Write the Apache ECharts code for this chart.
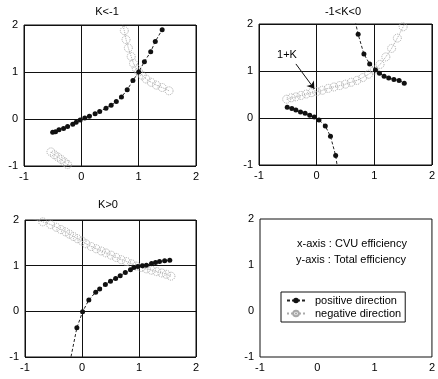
<!DOCTYPE html>
<html><head><meta charset="utf-8">
<script src="https://cdn.jsdelivr.net/npm/echarts@6/dist/echarts.min.js"></script>
<style>html,body{margin:0;padding:0;background:#fff}#c{width:438px;height:379px}</style>
</head><body><div id="c"></div>
<script>
const axisTicks = [-1, 0, 1, 2];
const panelTitles = ["K<-1", "-1<K<0", "K>0"];
const seriesNames = ["positive direction", "negative direction"];
const infoLines = ["x-axis : CVU efficiency", "y-axis : Total efficiency"];
const annotationText = "1+K";

// K<-1
const k1Pos = [[-0.50,-0.28],[-0.45,-0.27],[-0.39,-0.23],[-0.31,-0.20],[-0.24,-0.16],[-0.15,-0.11],[-0.09,-0.07],[-0.02,-0.02],[0.06,0.02],[0.14,0.06],[0.24,0.11],[0.32,0.16],[0.43,0.23],[0.52,0.29],[0.61,0.37],[0.70,0.47],[0.80,0.62],[0.90,0.82],[1.00,1.00],[1.10,1.22],[1.21,1.43],[1.29,1.65],[1.41,1.90]];
const k1NegUpper = [[0.70,2.10],[0.75,1.88],[0.78,1.69],[0.82,1.51],[0.87,1.33],[0.91,1.18],[0.96,1.07],[1.00,1.00],[1.06,0.93],[1.13,0.85],[1.22,0.78],[1.31,0.72],[1.41,0.67],[1.53,0.60]];
const k1NegLower = [[-0.53,-0.70],[-0.47,-0.76],[-0.41,-0.81],[-0.35,-0.86],[-0.29,-0.92],[-0.24,-0.97],[-0.18,-1.03]];
// -1<K<0
const k2PosLower = [[-0.51,0.23],[-0.43,0.20],[-0.36,0.17],[-0.28,0.13],[-0.20,0.10],[-0.12,0.06],[-0.04,0.02],[0.04,-0.04],[0.15,-0.17],[0.24,-0.39],[0.33,-0.80],[0.36,-1.05]];
const k2PosUpper = [[0.67,2.05],[0.72,1.78],[0.82,1.36],[0.92,1.15],[1.02,1.02],[1.09,0.95],[1.17,0.89],[1.25,0.85],[1.34,0.82],[1.43,0.80],[1.52,0.74]];
const k2Neg = [[-0.52,0.40],[-0.44,0.43],[-0.36,0.45],[-0.27,0.48],[-0.18,0.51],[-0.09,0.54],[0.00,0.56],[0.10,0.59],[0.20,0.63],[0.30,0.66],[0.40,0.69],[0.50,0.72],[0.60,0.76],[0.70,0.80],[0.80,0.86],[0.90,0.93],[1.00,1.02],[1.10,1.14],[1.20,1.30],[1.30,1.48],[1.40,1.70],[1.50,1.94],[1.55,2.06]];
const k2Arrow = [[-0.36,1.15],[-0.04,0.62]];
// K>0
const k3Pos = [[-0.21,-1.10],[-0.09,-0.36],[0.01,-0.01],[0.12,0.25],[0.24,0.42],[0.31,0.49],[0.41,0.59],[0.50,0.66],[0.59,0.72],[0.67,0.78],[0.76,0.85],[0.85,0.91],[0.91,0.96],[0.98,0.98],[1.06,1.00],[1.13,1.01],[1.22,1.05],[1.29,1.07],[1.36,1.09],[1.45,1.11],[1.54,1.12]];
const k3Neg = [[-0.85,2.02],[-0.69,1.96],[-0.55,1.90],[-0.45,1.84],[-0.37,1.79],[-0.29,1.74],[-0.22,1.69],[-0.15,1.64],[-0.08,1.59],[0.00,1.54],[0.07,1.48],[0.16,1.42],[0.25,1.37],[0.34,1.32],[0.42,1.28],[0.51,1.23],[0.60,1.18],[0.69,1.13],[0.78,1.09],[0.87,1.04],[0.95,0.99],[1.04,0.96],[1.13,0.93],[1.22,0.90],[1.31,0.87],[1.40,0.84],[1.48,0.81],[1.56,0.77]];

const FONT = 'Liberation Sans, Arial, sans-serif';
const grids = [
  {left:24, top:25, width:172, height:141},
  {left:259, top:24, width:173, height:141},
  {left:25, top:220, width:171, height:137},
  {left:260, top:219, width:173, height:138}
].map(g => Object.assign(g, {show:true, borderColor:'#111', borderWidth:1, backgroundColor:'#fff', containLabel:false}));

function axis(i, type) {
  return {
    type:'value', gridIndex:i, min:axisTicks[0], max:axisTicks[axisTicks.length-1], interval:1,
    position: type==='x' ? 'bottom' : 'left',
    axisLine:{show:false, onZero:false},
    axisTick:{show:false},
    axisLabel:{color:'#000', fontSize:11, fontFamily:FONT, margin: type==='x'?5:6},
    splitLine:{show:(i!==3), lineStyle:{color:'#111', width:1, opacity:(i===3?0:1)}}
  };
}
function pos(data, gi) {
  return {type:'line', name:seriesNames[0], xAxisIndex:gi, yAxisIndex:gi, data:data,
    symbol:'circle', symbolSize:5, showSymbol:true,
    lineStyle:{color:'#222', width:1, type:[3,2]},
    itemStyle:{color:'#111'}, animation:false, z:3};
}
function neg(data, gi, extra) {
  return Object.assign({type:'line', name:seriesNames[1], xAxisIndex:gi, yAxisIndex:gi, data:data,
    symbol:'circle', symbolSize:8, showSymbol:true,
    lineStyle:{color:'#aaa', width:1, type:'dotted'},
    itemStyle:{color:'rgba(255,255,255,0)', borderColor:'#a8a8a8', borderWidth:1, borderType:'dotted'},
    animation:false, z:2}, extra||{});
}

const series = [
  pos(k1Pos,0), neg(k1NegUpper,0), neg(k1NegLower,0),
  pos(k2PosLower,1), pos(k2PosUpper,1),
  neg(k2Neg,1,{markLine:{silent:true, animation:false, symbol:['none','arrow'], symbolSize:7,
     lineStyle:{color:'#111', width:1, type:'solid'}, label:{show:false},
     data:[[{coord:k2Arrow[0]},{coord:k2Arrow[1]}]]}}),
  pos(k3Pos,2), neg(k3Neg,2)
];

function txt(t, x, y, size) {
  return {type:'text', x:x, y:y, style:{text:t, fill:'#000', font:(size||11)+'px '+FONT, align:'center', verticalAlign:'middle', textAlign:'center', textVerticalAlign:'middle'}};
}

const chart = echarts.init(document.getElementById('c'), null, {renderer:'canvas'});
chart.setOption({
  animation:false,
  backgroundColor:'#fff',
  grid:grids,
  xAxis:[0,1,2,3].map(i=>axis(i,'x')),
  yAxis:[0,1,2,3].map(i=>axis(i,'y')),
  legend:{data:seriesNames, orient:'vertical', left:281, top:292, padding:[3,4,3,5], itemGap:2,
    itemWidth:18, itemHeight:7, borderColor:'#111', borderWidth:1, backgroundColor:'#fff',
    textStyle:{fontSize:11, fontFamily:FONT, color:'#000', padding:[0,0,0,5]}},
  graphic:[
    txt(panelTitles[0],107,12), txt(panelTitles[1],343,12), txt(panelTitles[2],108,205),
    txt(infoLines[0],352,244), txt(infoLines[1],351,260),
    txt(annotationText,287,55)
  ],
  series:series
});
</script></body></html>
